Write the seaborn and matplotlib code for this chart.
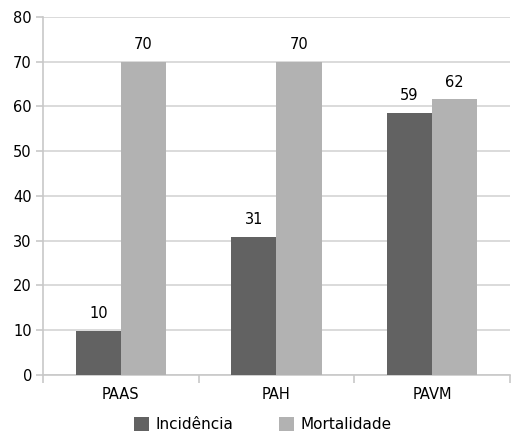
import matplotlib
matplotlib.use("Agg")
import matplotlib.pyplot as plt
import numpy as np
import pandas as pd
import seaborn as sns

# values
categories = ["PAAS", "PAH", "PAVM"]
incidencia = [9.9, 30.8, 58.6]
mortalidade = [70, 70, 61.6]
series_names = ["Incidência", "Mortalidade"]
colors = ["#626262", "#b2b2b2"]

df = pd.DataFrame({
    "cat": categories * 2,
    "serie": [series_names[0]] * 3 + [series_names[1]] * 3,
    "valor": incidencia + mortalidade,
})

sns.set_style("white")
plt.rcParams["font.family"] = ["DejaVu Sans"]

fig = plt.figure(figsize=(5.12, 4.33), dpi=100)
ax = fig.add_axes([0.084, 0.134, 0.912, 0.827])

sns.barplot(data=df, x="cat", y="valor", hue="serie", palette=colors,
            width=0.58, saturation=1, linewidth=0, ax=ax, zorder=3)

for cont in ax.containers:
    ax.bar_label(cont, fmt="%.0f", padding=7, fontsize=10.5, color="#000000")

ax.set_ylim(0, 80)
ax.set_yticks(np.arange(0, 81, 10))
ax.set_xlim(-0.5, 2.5)
ax.yaxis.grid(True, color="#d4d4d4", linewidth=1.2, zorder=0)
ax.set_axisbelow(True)

# category separators as tick marks, labels at centres
ax.set_xticks([-0.5, 0.5, 1.5, 2.5])
ax.set_xticklabels([])
ax.set_xticks([0, 1, 2], minor=True)
ax.set_xticklabels(categories, minor=True)
ax.tick_params(axis="x", which="major", bottom=True, length=6, color="#c8c8c8", width=1.2)
ax.tick_params(axis="x", which="minor", bottom=True, length=0, pad=9, labelsize=10.5,
               labelcolor="#000000")
ax.tick_params(axis="y", left=True, length=5, color="#c8c8c8", width=1.2, labelsize=10.5,
               pad=3, labelcolor="#000000")

ax.set_xlabel("")
ax.set_ylabel("")
for side in ["top", "right"]:
    ax.spines[side].set_visible(False)
for side in ["left", "bottom"]:
    ax.spines[side].set_color("#c8c8c8")
    ax.spines[side].set_linewidth(1.2)

leg = ax.legend(loc="upper center", bbox_to_anchor=(0.47, -0.08), ncol=2,
                frameon=False, fontsize=11, handlelength=1.0, handleheight=1.0,
                handletextpad=0.4, columnspacing=3.0)
for t in leg.get_texts():
    t.set_color("#000000")

fig.savefig("out.png", dpi=100)
